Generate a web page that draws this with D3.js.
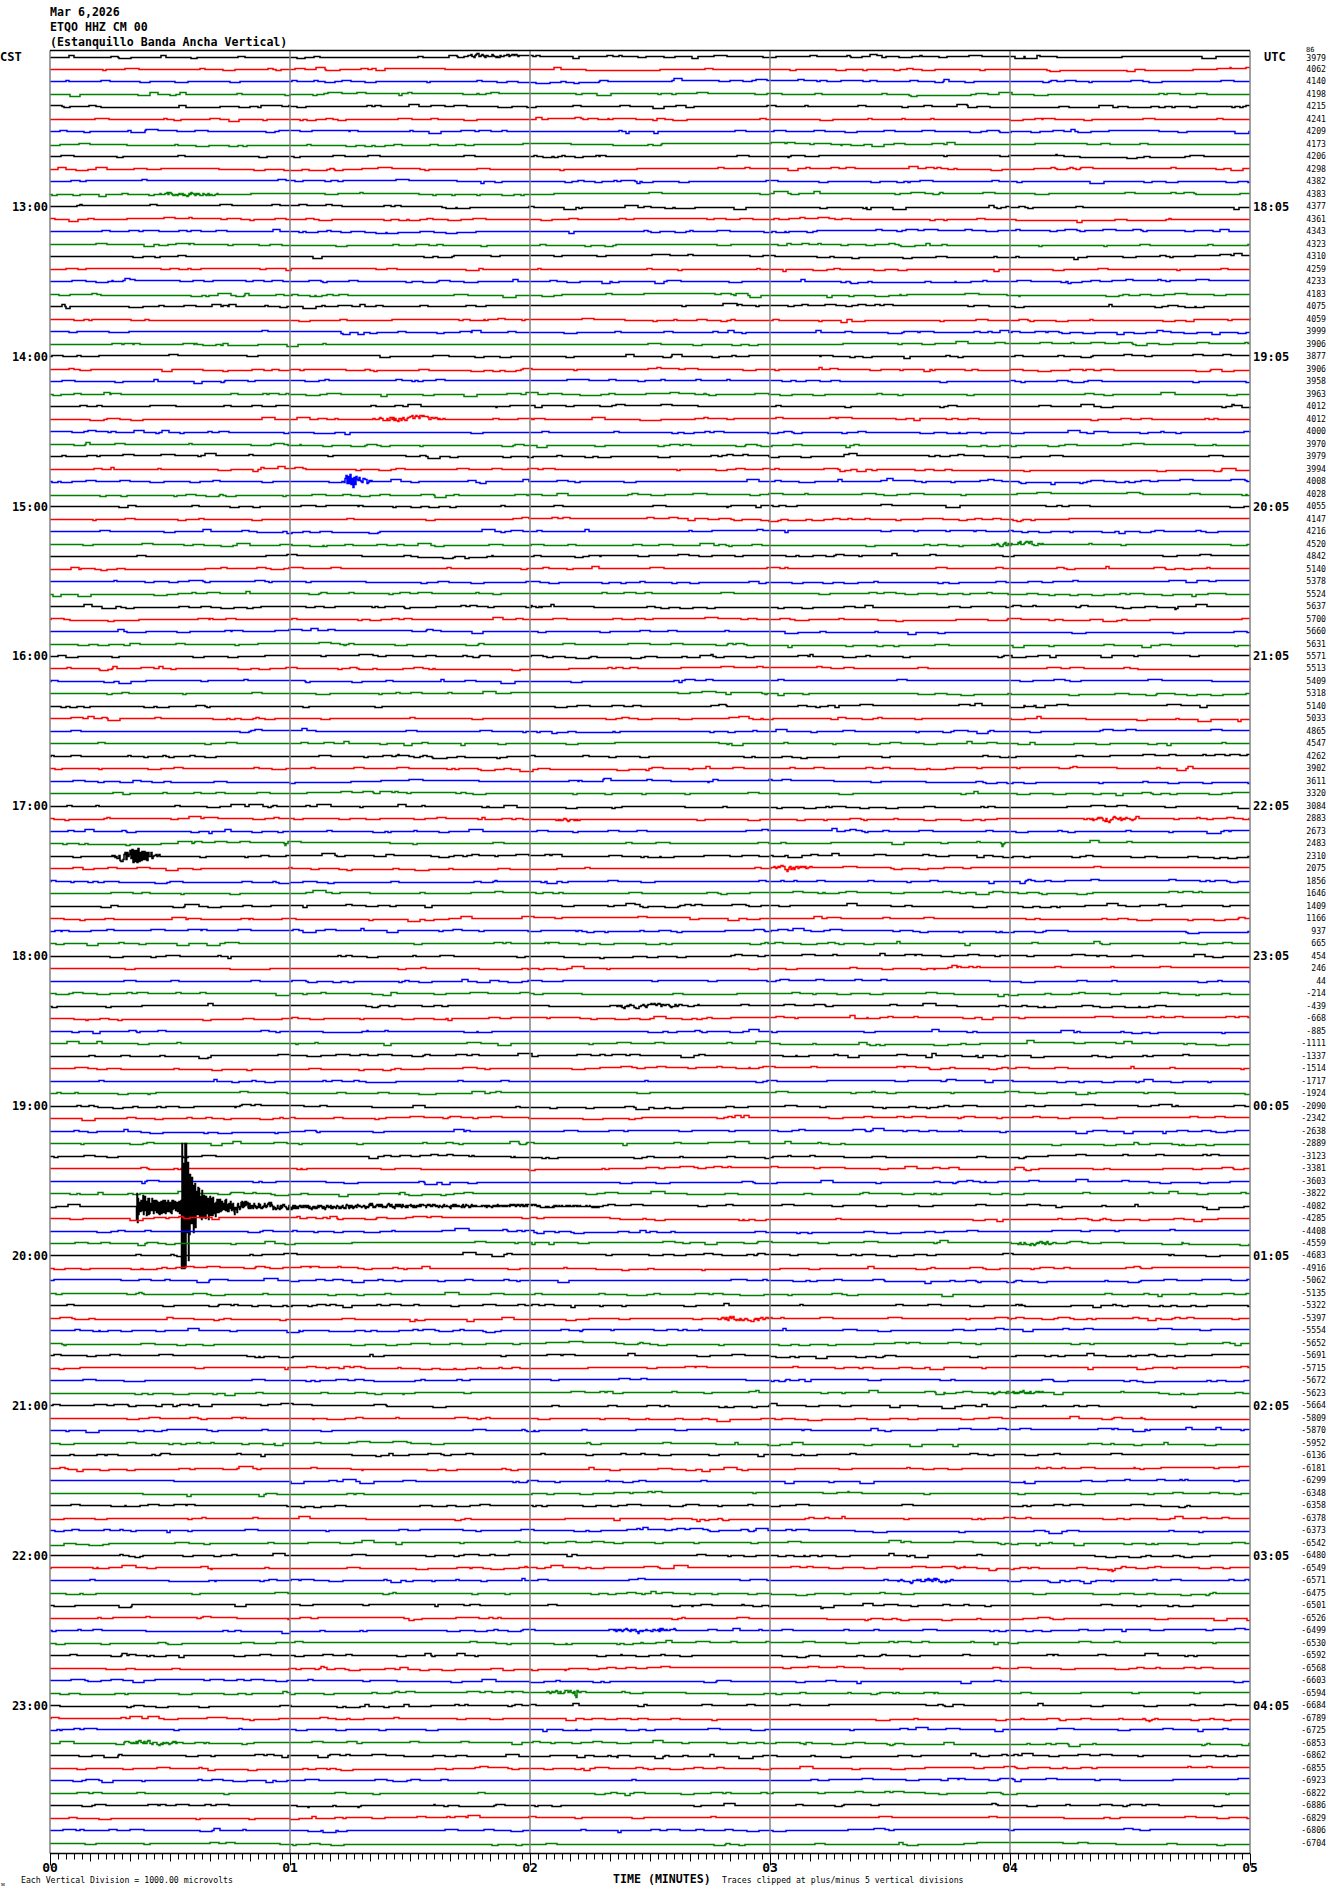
<!DOCTYPE html>
<html><head><meta charset="utf-8">
<script src="https://cdn.jsdelivr.net/npm/d3@7"></script>
<style>body{margin:0;background:#fff}svg{display:block}</style>
</head><body><svg id="c" width="1330" height="1894"></svg>
<script>
// ---------- data ----------
const headerLines = ["Mar 6,2026", "ETQO HHZ CM 00", "(Estanquillo Banda Ancha Vertical)"];
const cstLabels = ["13:00","14:00","15:00","16:00","17:00","18:00","19:00","20:00","21:00","22:00","23:00"];
const utcLabels = ["18:05","19:05","20:05","21:05","22:05","23:05","00:05","01:05","02:05","03:05","04:05"];
const minuteLabels = ["00","01","02","03","04","05"];
const traceValues = [
 3979,4062,4140,4198,4215,4241,4209,4173,4206,4298,4382,4383,
 4377,4361,4343,4323,4310,4259,4233,4183,4075,4059,3999,3906,
 3877,3906,3958,3963,4012,4012,4000,3970,3979,3994,4008,4028,
 4055,4147,4216,4520,4842,5140,5378,5524,5637,5700,5660,5631,
 5571,5513,5409,5318,5140,5033,4865,4547,4262,3902,3611,3320,
 3084,2883,2673,2483,2310,2075,1856,1646,1409,1166,937,665,
 454,246,44,-214,-439,-668,-885,-1111,-1337,-1514,-1717,-1924,
 -2090,-2342,-2638,-2889,-3123,-3381,-3603,-3822,-4082,-4285,-4408,-4559,
 -4683,-4916,-5062,-5135,-5322,-5397,-5554,-5652,-5691,-5715,-5672,-5623,
 -5664,-5809,-5870,-5952,-6136,-6181,-6299,-6348,-6358,-6378,-6373,-6542,
 -6480,-6549,-6571,-6475,-6501,-6526,-6499,-6530,-6592,-6568,-6603,-6594,
 -6684,-6789,-6725,-6853,-6862,-6855,-6923,-6822,-6886,-6829,-6806,-6704];
const traceColors = ["#000000", "#ff0000", "#0000ff", "#008000"];
// events: trace index, envelope [minute, amplitude in vertical divisions]
const events = [
 {trace:0,   env:[[1.72,0],[1.78,0.14],[1.9,0.12],[1.95,0]]},
 {trace:11,  env:[[0.44,0],[0.5,0.14],[0.68,0.1],[0.72,0]]},
 {trace:29,  env:[[1.33,0],[1.42,0.18],[1.6,0.12],[1.66,0]]},
 {trace:34,  env:[[1.22,0],[1.235,0.6],[1.27,0.55],[1.3,0.3],[1.33,0.12],[1.36,0]]},
 {trace:39,  env:[[3.9,0],[3.98,0.16],[4.1,0.12],[4.14,0]]},
 {trace:44,  env:[[1.97,0],[2.0,0.14],[2.08,0]]},
 {trace:61,  env:[[2.1,0],[2.15,0.1],[2.22,0],[4.3,0],[4.38,0.18],[4.5,0.12],[4.54,0]]},
 {trace:63,  env:[[0.97,0],[0.98,0.25],[0.99,0],[3.96,0],[3.97,0.25],[3.98,0]]},
 {trace:64,  env:[[0.24,0],[0.3,0.4],[0.36,0.6],[0.4,0.55],[0.44,0.25],[0.47,0]]},
 {trace:65,  env:[[3.0,0],[3.06,0.22],[3.18,0.1],[3.21,0]]},
 {trace:76,  env:[[2.32,0],[2.42,0.16],[2.6,0.13],[2.72,0]]},
 {trace:92,  env:[[0.36,0],[0.3605,1.7],[0.366,1.0],[0.40,0.75],[0.45,0.6],[0.5,0.55],[0.546,0.6],[0.548,9],[0.572,9],[0.58,3.2],[0.6,2.2],[0.64,1.2],[0.7,0.7],[0.79,0.35],[0.875,0.25],[1.0,0.17],[1.25,0.14],[1.6,0.1],[2.0,0.07],[2.3,0]]},
 {trace:95,  env:[[4.0,0],[4.06,0.13],[4.16,0.1],[4.2,0]]},
 {trace:101, env:[[2.75,0],[2.82,0.15],[2.98,0.12],[3.02,0]]},
 {trace:107, env:[[3.9,0],[3.98,0.14],[4.12,0.1],[4.16,0]]},
 {trace:122, env:[[3.5,0],[3.58,0.14],[3.74,0.11],[3.78,0]]},
 {trace:126, env:[[2.3,0],[2.38,0.14],[2.58,0.11],[2.63,0]]},
 {trace:131, env:[[2.05,0],[2.1,0.15],[2.18,0.12],[2.19,0.45],[2.2,0.1],[2.22,0]]},
 {trace:133, env:[[4.55,0],[4.58,0.12],[4.62,0]]},
 {trace:135, env:[[0.3,0],[0.38,0.17],[0.52,0.12],[0.56,0]]}
];

// ---------- drawing ----------
const svg = d3.select("#c");
const x = d3.scaleLinear().domain([0, 5]).range([50, 1250]);
const yT = d3.scaleLinear().domain([0, traceValues.length - 1]).range([56.5, 1842.5]);
const divPx = (yT(1) - yT(0));

// deterministic texture for background trace noise
function rng(seed) { let a = seed >>> 0; return function () { a |= 0; a = a + 0x6D2B79F5 | 0; let t = Math.imul(a ^ a >>> 15, 1 | a); t = t + Math.imul(t ^ t >>> 7, 61 | t) ^ t; return ((t ^ t >>> 14) >>> 0) / 4294967296; }; }

function envAt(env, m) {
  if (m < env[0][0] || m > env[env.length - 1][0]) return 0;
  for (let i = 0; i < env.length - 1; i++) {
    if (m >= env[i][0] && m <= env[i + 1][0]) {
      const t = (m - env[i][0]) / (env[i + 1][0] - env[i][0] || 1);
      return env[i][1] + t * (env[i + 1][1] - env[i][1]);
    }
  }
  return 0;
}

const line = d3.line().x(d => x(d[0])).y(d => d[1]).curve(d3.curveStepAfter);
const gT = svg.append("g");
traceValues.forEach((v, i) => {
  const r = rng(i * 7919 + 13);
  const evs = events.filter(e => e.trace === i);
  const big = evs.some(ev => d3.max(ev.env, p => p[1]) > 1);
  const sub = big ? 2 : 1;
  const nS = 1200 * sub;
  const pts = [];
  let bump = 0, bumpLeft = 0, base = 0, w = 0;
  for (let k = 0; k <= nS; k++) {
    const m = 5 * k / nS;
    if (k % sub === 0) {
      if (bumpLeft <= 0) {
        bump = 0;
        if (r() < 0.03) { bump = r() < 0.5 ? -1 : 1; if (r() < 0.12) bump *= 2; bumpLeft = 2 + Math.floor(r() * 12); }
      } else bumpLeft--;
      if (r() < 0.004) base = base === 0 ? (r() < 0.5 ? -1 : 1) : 0;
    }
    let off = base + bump;
    let e = 0;
    evs.forEach(ev => { e += envAt(ev.env, m); });
    if (e > 0.5) {
      const s = (k % 2 === 0) ? 1 : -1;
      off += s * (0.2 + 0.8 * r()) * e * divPx;
    } else if (e > 0) {
      w = 0.45 * w + (r() * 2 - 1);
      off += w * e * divPx;
    }
    off = Math.max(-5 * divPx, Math.min(5 * divPx, off));
    pts.push([m, Math.round(yT(i) - off) + 0.5]);
  }
  gT.append("path").attr("d", line(pts)).attr("fill", "none")
    .attr("stroke", traceColors[i % 4]).attr("stroke-width", 1.5);
});

// frame & grid
const yTop = 50.5, yBottom = 1853.5;
svg.append("g").selectAll("line").data(d3.range(0, 6)).join("line")
  .attr("x1", d => x(d)).attr("x2", d => x(d)).attr("y1", yTop).attr("y2", yBottom)
  .attr("stroke", "#808080").attr("stroke-width", 1.5);
svg.append("line").attr("x1", x(0)).attr("x2", x(5)).attr("y1", yTop).attr("y2", yTop).attr("stroke", "#000").attr("stroke-width", 1.5);

// bottom axis
const axG = svg.append("g").attr("transform", `translate(0,${yBottom})`);
axG.append("line").attr("x1", x(0)).attr("x2", x(5)).attr("stroke", "#000").attr("stroke-width", 1.5);
const tickSec = d3.range(0, 301, 2);
axG.selectAll("line.t").data(tickSec).join("line").attr("class", "t")
  .attr("x1", d => Math.round(x(d / 60)) + 0.5).attr("x2", d => Math.round(x(d / 60)) + 0.5)
  .attr("y1", 0).attr("y2", d => d % 60 === 0 ? 12 : (d % 10 === 0 ? 8 : 6))
  .attr("stroke", "#000").attr("stroke-width", 1);
axG.selectAll("text").data(minuteLabels).join("text")
  .attr("x", (d, i) => x(i)).attr("y", 18).attr("text-anchor", "middle")
  .attr("font-family", "DejaVu Sans Mono").attr("font-weight", "bold").attr("font-size", 13).text(d => d);

const mono = "DejaVu Sans Mono";
// header
svg.append("g").selectAll("text").data(headerLines).join("text")
  .attr("x", 50).attr("y", (d, i) => 16 + i * 15)
  .attr("font-family", mono).attr("font-weight", "bold").attr("font-size", 11.6).text(d => d);
svg.append("text").attr("x", 0).attr("y", 61).attr("font-family", mono).attr("font-weight", "bold").attr("font-size", 12).text("CST");
svg.append("text").attr("x", 1264).attr("y", 61).attr("font-family", mono).attr("font-weight", "bold").attr("font-size", 12).text("UTC");

svg.append("g").selectAll("text").data(cstLabels).join("text")
  .attr("x", 48).attr("y", (d, i) => yT((i + 1) * 12) + 4.5).attr("text-anchor", "end")
  .attr("font-family", mono).attr("font-weight", "bold").attr("font-size", 12).text(d => d);
svg.append("g").selectAll("text").data(utcLabels).join("text")
  .attr("x", 1253).attr("y", (d, i) => yT((i + 1) * 12) + 4.5)
  .attr("font-family", mono).attr("font-weight", "bold").attr("font-size", 12).text(d => d);

svg.append("g").selectAll("text").data(traceValues).join("text")
  .attr("x", 1326).attr("y", (d, i) => yT(i) + (i === 0 ? 4 : 3)).attr("text-anchor", "end")
  .attr("font-family", mono).attr("font-size", 8.2).text(d => d);
svg.append("text").attr("x", 1306).attr("y", 52).attr("font-family", mono).attr("font-size", 7).text("86");

// bottom notes
svg.append("text").attr("x", 21).attr("y", 1883).attr("font-family", mono).attr("font-size", 8.2).text("Each Vertical Division = 1000.00 microvolts");
svg.append("text").attr("x", 613).attr("y", 1883).attr("font-family", mono).attr("font-weight", "bold").attr("font-size", 11.6).text("TIME (MINUTES)");
svg.append("text").attr("x", 722).attr("y", 1883).attr("font-family", mono).attr("font-size", 8.2).text("Traces clipped at plus/minus 5 vertical divisions");
svg.append("text").attr("x", 1).attr("y", 1886).attr("font-family", mono).attr("font-size", 6).text("ᴍ");
</script></body></html>
